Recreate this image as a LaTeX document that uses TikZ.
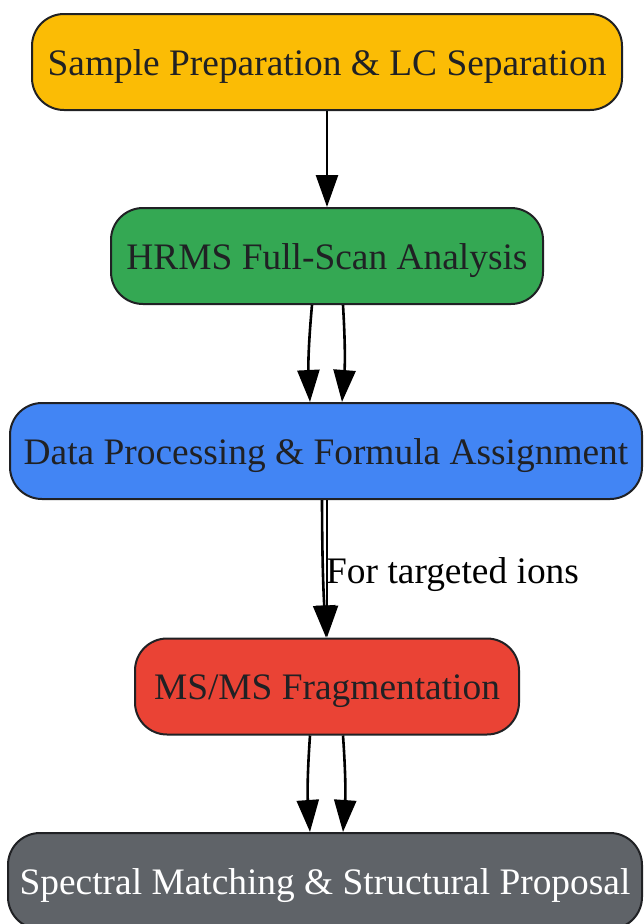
\documentclass[tikz,border=0pt]{standalone}
\usepackage{fontspec}
\setmainfont{Liberation Serif}
\usetikzlibrary{arrows.meta}
\definecolor{cyel}{HTML}{FBBC05}
\definecolor{cgrn}{HTML}{34A853}
\definecolor{cblu}{HTML}{4285F4}
\definecolor{cred}{HTML}{EA4335}
\definecolor{cgry}{HTML}{5F6368}
\definecolor{cdark}{HTML}{202124}
\tikzset{
  stepbox/.style={draw=cdark, line width=2pt, rounded corners=32pt, minimum height=96pt, inner sep=0pt, text height=30pt, text depth=4pt, text=cdark, font=\fontsize{37.4}{44}\selectfont},
  arr/.style={line width=2.6pt, -{Triangle[length=32pt,width=22pt]}},
}
\begin{document}
\begin{tikzpicture}[x=1pt,y=-1pt]
\useasboundingbox (0,0) rectangle (644,924);
\clip (0,0) rectangle (644,924);
\fill[white] (0,0) rectangle (644,924);
\node[stepbox, fill=cyel, minimum width=590pt] (n1) at (327,62) {Sample Preparation \& LC Separation};
\node[stepbox, fill=cgrn, minimum width=432pt] (n2) at (327,256) {HRMS Full-Scan Analysis};
\node[stepbox, fill=cblu, minimum width=632pt] (n3) at (326,451) {Data Processing \& Formula Assignment};
\node[stepbox, fill=cred, minimum width=384pt] (n4) at (327,686.5) {MS/MS Fragmentation};
\node[stepbox, fill=cgry, minimum width=634pt, text=white] (n5) at (325,881) {Spectral Matching \& Structural Proposal};
\draw[arr] (n1.south) -- (n2.north);
\draw[arr] ([xshift=-15pt]n2.south) to[bend right=4] ([xshift=-16pt]n3.north);
\draw[arr] ([xshift=16pt]n2.south) to[bend left=4] ([xshift=16pt]n3.north);
\draw[arr] ([xshift=-4pt]n3.south) to[bend right=1.5] ([xshift=-1pt]n4.north);
\draw[arr] ([xshift=1pt]n3.south) -- ([xshift=0pt]n4.north);
\node[anchor=base west, inner sep=0pt, font=\fontsize{37.4}{44}\selectfont] (lbl) at (326,583) {For targeted ions};
\draw[arr] ([xshift=-17pt]n4.south) to[bend right=4] ([xshift=-15pt]n5.north);
\draw[arr] ([xshift=16pt]n4.south) to[bend left=4] ([xshift=18pt]n5.north);
\end{tikzpicture}
\end{document}
